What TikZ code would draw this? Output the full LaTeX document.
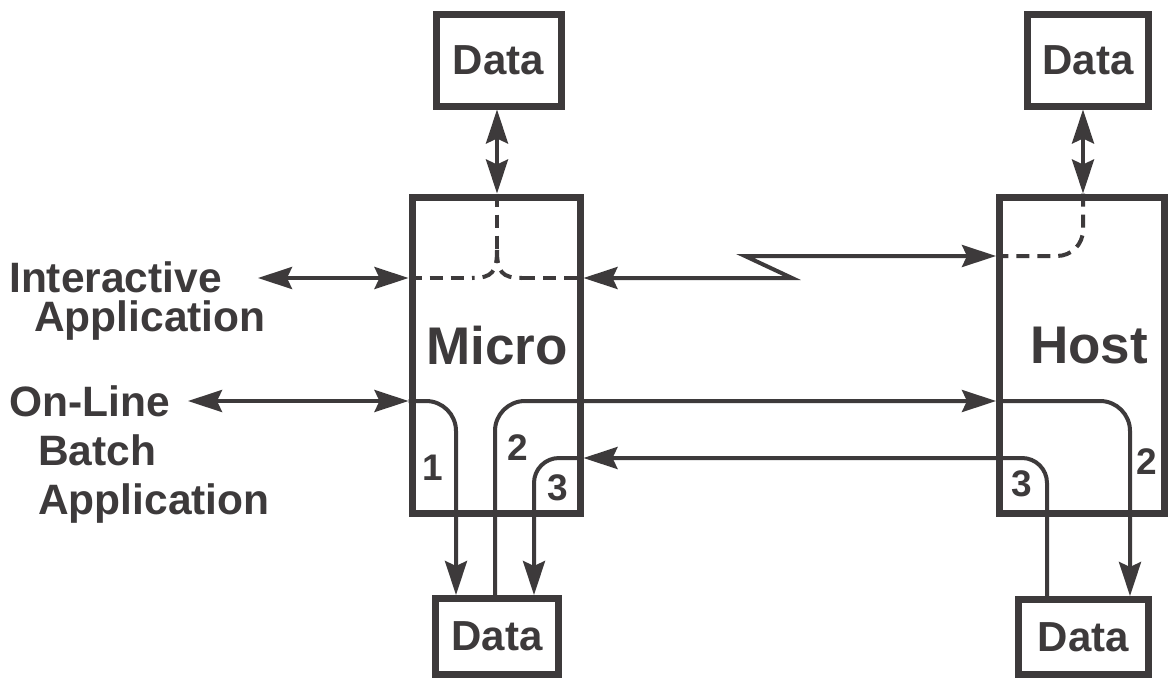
\documentclass[tikz,border=0pt]{standalone}
\usepackage{fontspec}
\setmainfont{Liberation Sans}
\usetikzlibrary{arrows.meta}
\definecolor{ink}{HTML}{3D3A3B}
\begin{document}
\begin{tikzpicture}[x=1pt,y=-1pt,
  box/.style={draw=ink, line width=7pt, rectangle, inner sep=0pt, text=ink,
    font=\fontsize{42}{42}\selectfont\bfseries},
  big/.style={text=ink, inner sep=0pt, font=\fontsize{53}{53}\selectfont\bfseries},
  lab/.style={text=ink, inner sep=0pt, anchor=base west, font=\fontsize{42.5}{42.5}\selectfont\bfseries},
  num/.style={text=ink, inner sep=0pt, font=\fontsize{37}{37}\selectfont\bfseries},
  conn/.style={draw=ink, line width=4pt},
  tip/.style={-{Stealth[length=34pt,width=22pt,inset=5pt]}},
  tips/.style={{Stealth[length=34pt,width=22pt,inset=5pt]}-{Stealth[length=34pt,width=22pt,inset=5pt]}},
  dsh/.style={draw=ink, line width=4pt, dash pattern=on 13pt off 8pt},
]
\fill[white] (0,0) rectangle (1170,683);
\useasboundingbox (0,0) rectangle (1170,683);

% boxes
\node[box, minimum width=125pt, minimum height=92pt] (dataTL) at (498.5,60) {Data};
\node[box, minimum width=121.5pt, minimum height=92pt] (dataTR) at (1088,60) {Data};
\node[box, minimum width=168pt, minimum height=316pt] (micro) at (496,355) {};
\node[box, minimum width=165pt, minimum height=316pt] (host) at (1082,355) {};
\node[box, minimum width=123.5pt, minimum height=76pt] (dataBL) at (497,636.5) {Data};
\node[box, minimum width=130pt, minimum height=75pt] (dataBR) at (1083.5,637) {Data};

\node[big] (microT) at (497,346) {Micro};
\node[big] (hostT) at (1089,346) {Host};

% left labels
\node[lab] (l1) at (9,292) {Interactive};
\node[lab] (l2) at (34,331) {Application};
\node[lab] (l3) at (9,416) {On-Line};
\node[lab] (l4) at (38,465) {Batch};
\node[lab] (l5) at (38,514) {Application};

% numbers
\node[num] (n1) at (433,468) {1};
\node[num] (n2) at (518,448) {2};
\node[num] (n3) at (558,488) {3};
\node[num] (n3h) at (1022,484) {3};
\node[num] (n2h) at (1147,462) {2};

% coordinates
\coordinate (iaL) at (258,278);
\coordinate (olL) at (188,401);
\coordinate (z1) at (792,278);
\coordinate (z2) at (745,256);

% top data links
\draw[conn, tips] (dataTL.south -| 497,0) -- (micro.north -| 497,0);
\draw[conn, tips] (dataTR.south -| 1083,0) -- (host.north -| 1083,0);

% dashed internal paths
\draw[dsh] (micro.north -| 497,0) -- (497,250);
\draw[dsh] (497,250) .. controls (497,272) and (492,278) .. (472,278);
\draw[dsh] (497,250) .. controls (497,272) and (502,278) .. (522,278);
\draw[dsh] (micro.west |- 0,278) -- (472,278);
\draw[dsh] (522,278) -- (micro.east |- 0,278);
\draw[dsh, rounded corners=26pt] (host.north -| 1083,0) -- (1083,256) -- (host.west |- 0,256);

% interactive
\draw[conn, tips] (iaL) -- (micro.west |- iaL);
\draw[conn, tips] (micro.east |- z1) -- (z1) -- (z2) -- (host.west |- z2);

% on-line
\draw[conn, tips] (olL) -- (micro.west |- olL);

% path 1
\draw[conn, tip, rounded corners=30pt] (micro.west |- 0,401) -| (dataBL.north -| 456,0);
% path 2
\draw[conn, tip, rounded corners=30pt] (dataBL.north -| 495,0) |- (host.west |- 0,401);
\draw[conn, tip, rounded corners=30pt] (host.west |- 0,401) -| (dataBR.north -| 1130,0);
% path 3
\draw[conn, tip, rounded corners=25pt] (dataBR.north -| 1047,0) |- (micro.east |- 0,458);
\draw[conn, tip, rounded corners=25pt] (micro.east |- 0,458) -| (dataBL.north -| 534,0);
\end{tikzpicture}
\end{document}
